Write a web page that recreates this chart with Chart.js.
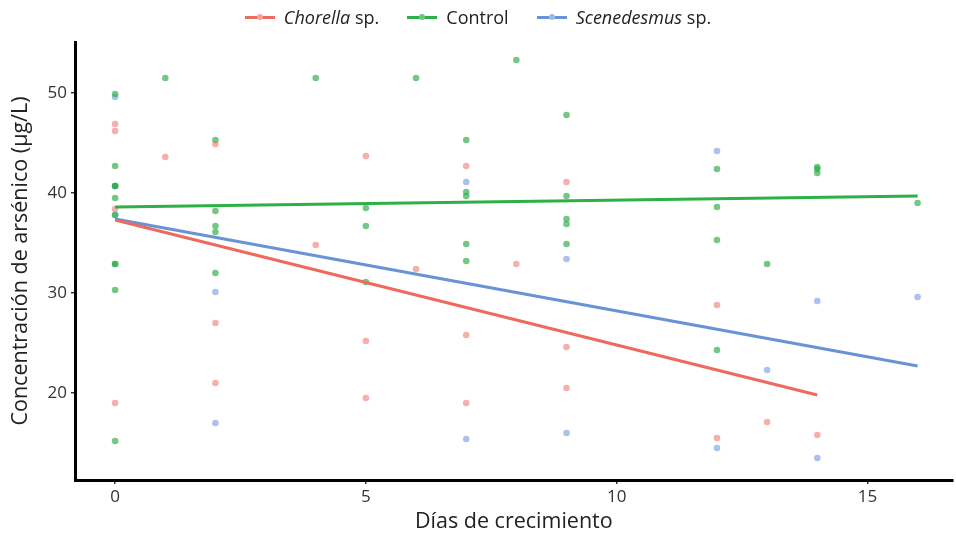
<!DOCTYPE html>
<html>
<head>
<meta charset="utf-8">
<script src="https://cdn.jsdelivr.net/npm/chart.js@4"></script>
<style>
  html, body { margin: 0; padding: 0; background: #fff; }
  #wrap { position: relative; width: 956px; height: 535px; }
  #legend { position: absolute; top: 4px; left: 0; width: 956px; height: 26px; display: flex; justify-content: center; align-items: center;
    font-family: "Open Sans", "Noto Sans", sans-serif; font-size: 18px; color: #222; }
  .item { display: flex; align-items: center; margin: 0 14px; }
  .sw { position: relative; width: 30px; height: 3px; margin-right: 9px; }
  .sw i { position: absolute; left: 12px; top: -2px; width: 6px; height: 6px; border-radius: 50%; }
</style>
</head>
<body>
<div id="wrap">
  <div id="legend">
    <div class="item"><span class="sw" style="background:#EE6A5E"><i style="background:#F4A49D"></i></span><span><em>Chorella</em> sp.</span></div>
    <div class="item"><span class="sw" style="background:#2DB045"><i style="background:#69C47C"></i></span><span>Control</span></div>
    <div class="item"><span class="sw" style="background:#6A93D6"><i style="background:#9EB8E6"></i></span><span><em>Scenedesmus</em> sp.</span></div>
  </div>
  <canvas id="c" width="956" height="535"></canvas>
</div>
<script>
// Chorella sp. observations
const chorellaDays   = [0, 0, 0, 0, 1, 2, 2, 2, 4, 5, 5, 5, 6, 7, 7, 7, 8, 9, 9, 9, 12, 12, 13, 14];
const chorellaValues = [46.9, 46.2, 38.4, 19.0, 43.6, 44.9, 27.0, 21.0, 34.8, 43.7, 25.2, 19.5, 32.4, 42.7, 25.8, 19.0, 32.9, 41.1, 24.6, 20.5, 28.8, 15.5, 17.1, 15.8];
// Control observations
const controlDays   = [0, 0, 0, 0, 0, 0, 0, 0, 0, 0, 1, 2, 2, 2, 2, 2, 4, 5, 5, 5, 6, 7, 7, 7, 7, 7, 8, 9, 9, 9, 9, 9, 12, 12, 12, 12, 13, 14, 14, 14, 16];
const controlValues = [49.9, 42.7, 40.7, 40.7, 39.5, 37.8, 32.9, 32.9, 30.3, 15.2, 51.5, 45.3, 38.2, 36.7, 36.1, 32.0, 51.5, 38.5, 36.7, 31.1, 51.5, 45.3, 40.1, 39.7, 34.9, 33.2, 53.3, 47.8, 39.7, 37.4, 36.9, 34.9, 42.4, 38.6, 35.3, 24.3, 32.9, 42.6, 42.4, 42.0, 39.0];
// Scenedesmus sp. observations
const scenDays   = [0, 0, 0, 2, 2, 7, 7, 9, 9, 12, 12, 13, 14, 14, 16];
const scenValues = [49.6, 40.7, 37.8, 30.1, 17.0, 41.1, 15.4, 33.4, 16.0, 44.2, 14.5, 22.3, 29.2, 13.5, 29.6];
// Fitted trend lines (endpoints)
const chorellaFitDays = [0, 14];
const chorellaFitValues = [37.3, 19.8];
const controlFitDays = [0, 16];
const controlFitValues = [38.6, 39.7];
const scenFitDays = [0, 16];
const scenFitValues = [37.4, 22.7];
// Ticks
const xTicks = [0, 5, 10, 15];
const yTicks = [20, 30, 40, 50];

const pts = (xs, ys) => xs.map((x, i) => ({ x: x, y: ys[i] }));
const FONT = '"Open Sans", "Noto Sans", sans-serif';

const pointDs = (label, xs, ys, color) => ({
  type: 'scatter', label, data: pts(xs, ys), order: 2,
  pointRadius: 3.3, pointHoverRadius: 3.3, pointBorderWidth: 0,
  backgroundColor: color, borderColor: color, showLine: false
});
const lineDs = (label, xs, ys, color) => ({
  type: 'line', label, data: pts(xs, ys), order: 1,
  borderColor: color, borderWidth: 3.2, pointRadius: 0, fill: false, tension: 0
});

new Chart(document.getElementById('c'), {
  type: 'scatter',
  data: {
    datasets: [
      pointDs('Chorella sp.', chorellaDays, chorellaValues, 'rgba(240,110,100,0.55)'),
      pointDs('Control', controlDays, controlValues, 'rgba(40,170,70,0.65)'),
      pointDs('Scenedesmus sp.', scenDays, scenValues, 'rgba(100,145,220,0.55)'),
      lineDs('Chorella sp. fit', chorellaFitDays, chorellaFitValues, '#EE6A5E'),
      lineDs('Control fit', controlFitDays, controlFitValues, '#2DB045'),
      lineDs('Scenedesmus sp. fit', scenFitDays, scenFitValues, '#6A93D6')
    ]
  },
  options: {
    responsive: false,
    animation: false,
    events: [],
    layout: { padding: { top: 42, right: 0, left: 8, bottom: 0 } },
    plugins: { legend: { display: false }, tooltip: { enabled: false } },
    scales: {
      x: {
        type: 'linear', min: -0.8, max: 16.7,
        afterBuildTicks: s => { s.ticks = xTicks.map(v => ({ value: v })); },
        afterFit: s => { s.height = 55; },
        grid: { display: true, drawOnChartArea: false, drawTicks: true, tickLength: 4, color: '#333', lineWidth: 1.5 },
        border: { display: true, color: '#000', width: 3 },
        ticks: { font: { family: FONT, size: 17 }, color: '#333', padding: 3 },
        title: { display: true, text: 'Días de crecimiento', font: { family: FONT, size: 21.5 }, color: '#222', padding: { top: 0, bottom: 0 } }
      },
      y: {
        type: 'linear', min: 11.3, max: 55.1,
        afterBuildTicks: s => { s.ticks = yTicks.map(v => ({ value: v })); },
        afterFit: s => { s.width = 67; },
        grid: { display: true, drawOnChartArea: false, drawTicks: true, tickLength: 4, color: '#333', lineWidth: 1.5 },
        border: { display: true, color: '#000', width: 3 },
        ticks: { font: { family: FONT, size: 17 }, color: '#333', padding: 4 },
        title: { display: true, text: 'Concentración de arsénico (μg/L)', font: { family: FONT, size: 21.5 }, color: '#222', padding: { top: 0, bottom: 4 } }
      }
    }
  }
});
</script>
</body>
</html>
